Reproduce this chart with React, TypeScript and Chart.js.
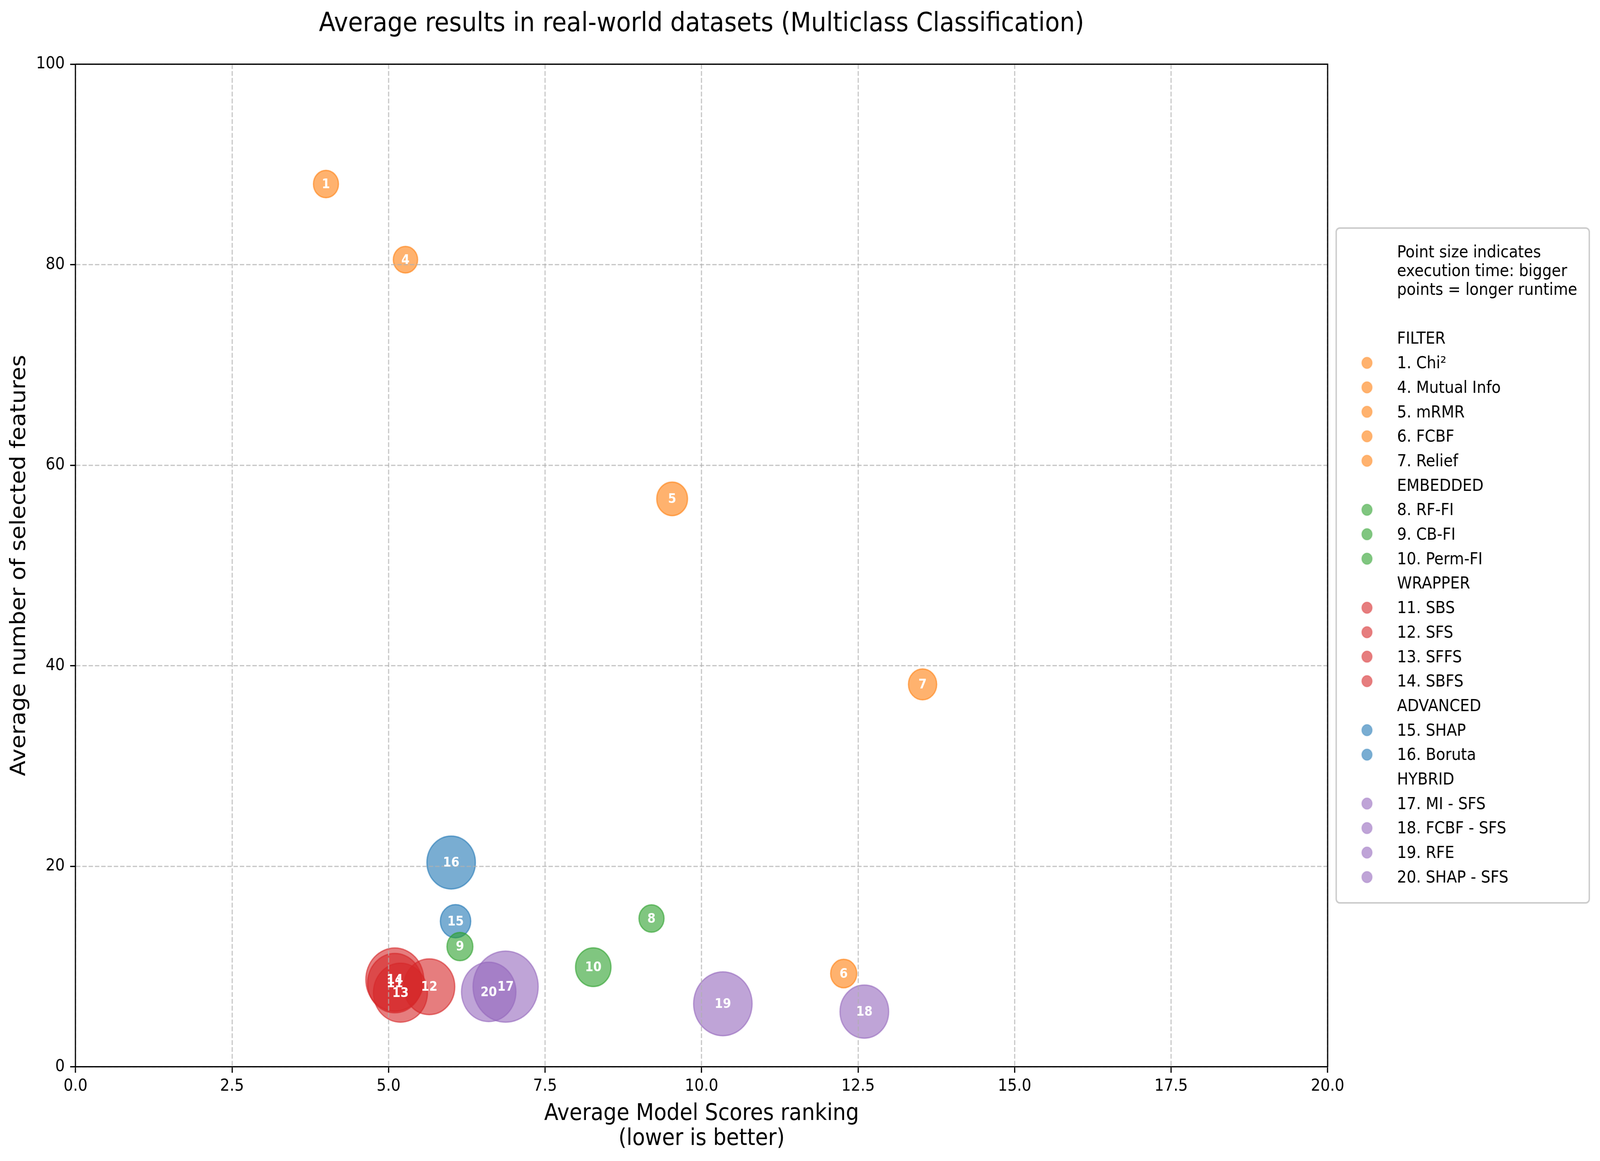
import React, { useEffect, useRef } from 'react';
import { Chart, registerables } from 'chart.js';

Chart.register(...registerables);

// ---------------- data ----------------
const chartTitle = 'Average results in real-world datasets (Multiclass Classification)';
const xAxisTitle = ['Average Model Scores ranking', '(lower is better)'];
const yAxisTitle = 'Average number of selected features';
const sizeNote = ['Point size indicates', 'execution time: bigger', 'points = longer runtime'];

const groupNames = ['FILTER', 'EMBEDDED', 'WRAPPER', 'ADVANCED', 'HYBRID'];
const groupColors = ['255,127,14', '44,160,44', '214,39,40', '31,119,180', '148,103,189'];

const methodIds = [1, 4, 5, 6, 7, 8, 9, 10, 11, 12, 13, 14, 15, 16, 17, 18, 19, 20];
const methodNames = [
  'Chi²', 'Mutual Info', 'mRMR', 'FCBF', 'Relief',
  'RF-FI', 'CB-FI', 'Perm-FI',
  'SBS', 'SFS', 'SFFS', 'SBFS',
  'SHAP', 'Boruta',
  'MI - SFS', 'FCBF - SFS', 'RFE', 'SHAP - SFS',
];
const methodGroup = [0, 0, 0, 0, 0, 1, 1, 1, 2, 2, 2, 2, 3, 3, 4, 4, 4, 4];
// average model score ranking (x)
const rankScores = [4.0, 5.27, 9.53, 12.27, 13.53, 9.2, 6.14, 8.27, 5.1, 5.65, 5.19, 5.1, 6.07, 6.0, 6.87, 12.6, 10.34, 6.6];
// average number of selected features (y)
const featureCounts = [88.05, 80.5, 56.65, 9.31, 38.15, 14.8, 12.0, 9.94, 8.35, 7.99, 7.4, 8.7, 14.53, 20.38, 8.0, 5.51, 6.29, 7.48];
// marker area (pt^2), grows with execution time
const markerAreas = [282, 266, 426, 307, 359, 282, 302, 565, 1331, 1171, 1313, 1512, 416, 1056, 1908, 1065, 1538, 1331];

const xTickValues = [0, 2.5, 5, 7.5, 10, 12.5, 15, 17.5, 20];
const yTickValues = [0, 20, 40, 60, 80, 100];

// ---------------- helpers ----------------
const DESIGN_W = 4470;
const DESIGN_H = 2973;
const FONT = 'DejaVu Sans';
const PX_PER_PT = 300 / 72;
const areaToRadius = (s: number) => (Math.sqrt(s) / 2) * PX_PER_PT;
const LW = 0.8 * PX_PER_PT;

const pointLabelPlugin = {
  id: 'pointLabels',
  afterDraw(chart: any) {
    const { ctx } = chart;
    ctx.save();
    ctx.font = `bold 33px "${FONT}"`;
    ctx.fillStyle = '#ffffff';
    ctx.textAlign = 'center';
    ctx.textBaseline = 'middle';
    chart.data.datasets.forEach((ds: any, di: number) => {
      const meta = chart.getDatasetMeta(di);
      meta.data.forEach((el: any, j: number) => {
        ctx.fillText(String(ds.ids[j]), el.x, el.y + 2);
      });
    });
    ctx.restore();
  },
};

const framePlugin = {
  id: 'frame',
  afterDraw(chart: any) {
    const { ctx, chartArea } = chart;
    ctx.save();
    ctx.strokeStyle = '#000';
    ctx.lineWidth = LW;
    ctx.beginPath();
    ctx.moveTo(chartArea.left, chartArea.top);
    ctx.lineTo(chartArea.right, chartArea.top);
    ctx.lineTo(chartArea.right, chartArea.bottom);
    ctx.stroke();
    ctx.restore();
  },
};

const sideLegendPlugin = {
  id: 'sideLegend',
  afterDraw(chart: any) {
    const { ctx, chartArea } = chart;
    const bx = chartArea.right + 24;
    const by = 584;
    const bw = 707;
    const bh = 1728;
    const markerX = bx + 86;
    const textX = bx + 170;
    const rowH = 62.7;
    ctx.save();
    ctx.beginPath();
    (ctx as any).roundRect(bx, by, bw, bh, 10);
    ctx.fillStyle = 'rgba(255,255,255,0.8)';
    ctx.fill();
    ctx.lineWidth = 4;
    ctx.strokeStyle = '#cccccc';
    ctx.stroke();

    ctx.font = `42px "${FONT}"`;
    ctx.fillStyle = '#000';
    ctx.textAlign = 'left';
    ctx.textBaseline = 'middle';
    sizeNote.forEach((t, i) => ctx.fillText(t, textX, by + 61 + i * 48 + 3));

    let y = by + 282.5;
    groupNames.forEach((g, gi) => {
      ctx.fillStyle = '#000';
      ctx.fillText(g, textX, y + 3);
      y += rowH;
      methodIds.forEach((id, k) => {
        if (methodGroup[k] !== gi) return;
        const c = groupColors[gi];
        ctx.beginPath();
        ctx.arc(markerX, y, 14.5, 0, Math.PI * 2);
        ctx.fillStyle = `rgba(${c},0.6)`;
        ctx.fill();
        ctx.lineWidth = 3;
        ctx.strokeStyle = `rgba(${c},0.25)`;
        ctx.stroke();
        ctx.fillStyle = '#000';
        ctx.fillText(`${id}. ${methodNames[k]}`, textX, y + 3);
        y += rowH;
      });
    });
    ctx.restore();
  },
};

export default function App() {
  const canvasRef = useRef<HTMLCanvasElement | null>(null);
  const wrapRef = useRef<HTMLDivElement | null>(null);

  useEffect(() => {
    if (!canvasRef.current || !wrapRef.current) return;
    const vw = window.innerWidth || DESIGN_W;
    const vh = window.innerHeight || DESIGN_H;
    const sx = vw / DESIGN_W;
    const sy = vh / DESIGN_H;
    wrapRef.current.style.transform = `scale(${sx}, ${sy})`;
    const dpr = (window.devicePixelRatio || 1) * Math.max(sx, sy);

    const datasets = groupNames.map((g, gi) => {
      const idx = methodIds.map((_, i) => i).filter((i) => methodGroup[i] === gi);
      return {
        label: g,
        ids: idx.map((i) => methodIds[i]),
        data: idx.map((i) => ({ x: rankScores[i], y: featureCounts[i], r: areaToRadius(markerAreas[i]) })),
        backgroundColor: `rgba(${groupColors[gi]},0.6)`,
        borderColor: `rgba(${groupColors[gi]},0.6)`,
        borderWidth: 3.5,
        clip: false as any,
      };
    });

    const tickFont = { family: FONT, size: 42 };
    const gridCommon = {
      color: 'rgba(176,176,176,0.7)',
      lineWidth: LW,
      z: 1,
      drawTicks: true,
      tickLength: 15,
      tickColor: '#000',
      tickWidth: LW,
      tickBorderDash: [],
    };

    const chart = new Chart(canvasRef.current, {
      type: 'bubble',
      data: { datasets: datasets as any },
      options: {
        animation: false,
        responsive: false,
        devicePixelRatio: dpr,
        events: [],
        layout: { padding: { left: 0, right: 761, top: 0, bottom: 0 } },
        plugins: {
          legend: { display: false },
          tooltip: { enabled: false },
          title: {
            display: true,
            text: chartTitle,
            color: '#000',
            fullSize: false,
            font: { family: FONT, size: 67, weight: 'normal', lineHeight: 1.2 },
            padding: { top: 22, bottom: 62 },
          },
        },
        scales: {
          x: {
            type: 'linear',
            min: 0,
            max: 20,
            afterBuildTicks: (s: any) => {
              s.ticks = xTickValues.map((v) => ({ value: v }));
            },
            afterFit: (s: any) => {
              s.height = 241;
            },
            ticks: {
              color: '#000',
              font: tickFont,
              padding: 10,
              maxRotation: 0,
              autoSkip: false,
              callback: (v: any) => Number(v).toFixed(1),
            },
            grid: gridCommon,
            border: { display: true, color: '#000', width: LW, dash: [12.3, 5.3], z: 2 },
            title: {
              display: true,
              text: xAxisTitle,
              color: '#000',
              font: { family: FONT, size: 58, lineHeight: 1.1035 },
              padding: { top: 0, bottom: 24 },
            },
          },
          y: {
            type: 'linear',
            min: 0,
            max: 100,
            afterBuildTicks: (s: any) => {
              s.ticks = yTickValues.map((v) => ({ value: v }));
            },
            afterFit: (s: any) => {
              s.width = 211;
            },
            ticks: {
              color: '#000',
              font: tickFont,
              padding: 15,
              autoSkip: false,
              callback: (v: any) => String(v),
            },
            grid: gridCommon,
            border: { display: true, color: '#000', width: LW, dash: [12.3, 5.3], z: 2 },
            title: {
              display: true,
              text: yAxisTitle,
              color: '#000',
              font: { family: FONT, size: 58, lineHeight: 1.2 },
              padding: { top: 20, bottom: 0 },
            },
          },
        },
      } as any,
      plugins: [pointLabelPlugin, framePlugin, sideLegendPlugin],
    });

    return () => chart.destroy();
  }, []);

  return (
    <div style={{ position: 'fixed', left: 0, top: 0, width: '100vw', height: '100vh', overflow: 'hidden', background: '#ffffff' }}>
      <div ref={wrapRef} style={{ width: DESIGN_W, height: DESIGN_H, transformOrigin: '0 0' }}>
        <canvas ref={canvasRef} width={DESIGN_W} height={DESIGN_H} style={{ display: 'block', width: DESIGN_W, height: DESIGN_H }} />
      </div>
    </div>
  );
}
